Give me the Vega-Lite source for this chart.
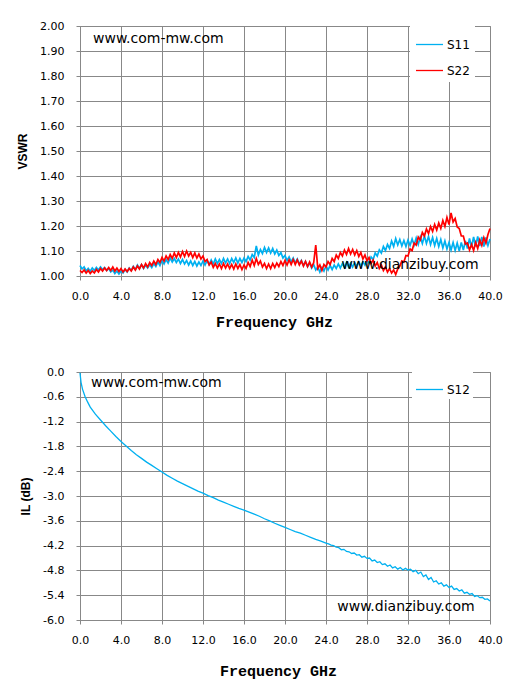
{
  "$schema": "https://vega.github.io/schema/vega-lite/v6.json",
  "padding": {"left": 16, "top": 19, "right": 5, "bottom": 5},
  "background": "white",
  "spacing": 35,
  "datasets": {
    "vswr": [
      {"f":0,"S11":1.042,"S22":1.022},{"f":0.2,"S11":1.028,"S22":1.014},{"f":0.4,"S11":1.036,"S22":1.024},{"f":0.6,"S11":1.020,"S22":1.012},{"f":0.8,"S11":1.030,"S22":1.022},
      {"f":1,"S11":1.019,"S22":1.010},{"f":1.2,"S11":1.032,"S22":1.020},{"f":1.4,"S11":1.022,"S22":1.012},{"f":1.6,"S11":1.034,"S22":1.026},{"f":1.8,"S11":1.024,"S22":1.016},
      {"f":2,"S11":1.036,"S22":1.030},{"f":2.2,"S11":1.026,"S22":1.020},{"f":2.4,"S11":1.034,"S22":1.032},{"f":2.6,"S11":1.022,"S22":1.022},{"f":2.8,"S11":1.030,"S22":1.034},
      {"f":3,"S11":1.016,"S22":1.022},{"f":3.2,"S11":1.024,"S22":1.036},{"f":3.4,"S11":1.010,"S22":1.020},{"f":3.6,"S11":1.020,"S22":1.032},{"f":3.8,"S11":1.008,"S22":1.018},
      {"f":4,"S11":1.020,"S22":1.030},{"f":4.2,"S11":1.012,"S22":1.016},{"f":4.4,"S11":1.026,"S22":1.028},{"f":4.6,"S11":1.016,"S22":1.018},{"f":4.8,"S11":1.032,"S22":1.030},
      {"f":5,"S11":1.022,"S22":1.020},{"f":5.2,"S11":1.038,"S22":1.036},{"f":5.4,"S11":1.026,"S22":1.024},{"f":5.6,"S11":1.044,"S22":1.040},{"f":5.8,"S11":1.030,"S22":1.028},
      {"f":6,"S11":1.046,"S22":1.046},{"f":6.2,"S11":1.030,"S22":1.032},{"f":6.4,"S11":1.044,"S22":1.050},{"f":6.6,"S11":1.032,"S22":1.036},{"f":6.8,"S11":1.046,"S22":1.054},
      {"f":7,"S11":1.034,"S22":1.042},{"f":7.2,"S11":1.050,"S22":1.060},{"f":7.4,"S11":1.038,"S22":1.046},{"f":7.6,"S11":1.056,"S22":1.066},{"f":7.8,"S11":1.042,"S22":1.054},
      {"f":8,"S11":1.062,"S22":1.074},{"f":8.2,"S11":1.048,"S22":1.060},{"f":8.4,"S11":1.066,"S22":1.080},{"f":8.6,"S11":1.052,"S22":1.066},{"f":8.8,"S11":1.072,"S22":1.086},
      {"f":9,"S11":1.056,"S22":1.070},{"f":9.2,"S11":1.070,"S22":1.092},{"f":9.4,"S11":1.054,"S22":1.074},{"f":9.6,"S11":1.068,"S22":1.094},{"f":9.8,"S11":1.050,"S22":1.076},
      {"f":10,"S11":1.066,"S22":1.098},{"f":10.2,"S11":1.048,"S22":1.078},{"f":10.4,"S11":1.062,"S22":1.100},{"f":10.6,"S11":1.044,"S22":1.080},{"f":10.8,"S11":1.060,"S22":1.094},
      {"f":11,"S11":1.042,"S22":1.074},{"f":11.2,"S11":1.058,"S22":1.092},{"f":11.4,"S11":1.040,"S22":1.072},{"f":11.6,"S11":1.056,"S22":1.088},{"f":11.8,"S11":1.042,"S22":1.068},
      {"f":12,"S11":1.060,"S22":1.080},{"f":12.2,"S11":1.044,"S22":1.058},{"f":12.4,"S11":1.062,"S22":1.066},{"f":12.6,"S11":1.046,"S22":1.044},{"f":12.8,"S11":1.064,"S22":1.056},
      {"f":13,"S11":1.048,"S22":1.034},{"f":13.2,"S11":1.068,"S22":1.050},{"f":13.4,"S11":1.050,"S22":1.032},{"f":13.6,"S11":1.066,"S22":1.048},{"f":13.8,"S11":1.050,"S22":1.030},
      {"f":14,"S11":1.070,"S22":1.050},{"f":14.2,"S11":1.052,"S22":1.032},{"f":14.4,"S11":1.068,"S22":1.048},{"f":14.6,"S11":1.050,"S22":1.030},{"f":14.8,"S11":1.070,"S22":1.046},
      {"f":15,"S11":1.054,"S22":1.028},{"f":15.2,"S11":1.072,"S22":1.048},{"f":15.4,"S11":1.052,"S22":1.030},{"f":15.6,"S11":1.070,"S22":1.046},{"f":15.8,"S11":1.054,"S22":1.026},
      {"f":16,"S11":1.072,"S22":1.044},{"f":16.2,"S11":1.058,"S22":1.030},{"f":16.4,"S11":1.078,"S22":1.054},{"f":16.6,"S11":1.064,"S22":1.038},{"f":16.8,"S11":1.086,"S22":1.064},
      {"f":17,"S11":1.074,"S22":1.042},{"f":17.2,"S11":1.120,"S22":1.070},{"f":17.4,"S11":1.084,"S22":1.046},{"f":17.6,"S11":1.106,"S22":1.060},{"f":17.8,"S11":1.090,"S22":1.036},
      {"f":18,"S11":1.114,"S22":1.050},{"f":18.2,"S11":1.094,"S22":1.030},{"f":18.4,"S11":1.112,"S22":1.048},{"f":18.6,"S11":1.092,"S22":1.030},{"f":18.8,"S11":1.110,"S22":1.050},
      {"f":19,"S11":1.088,"S22":1.034},{"f":19.2,"S11":1.104,"S22":1.052},{"f":19.4,"S11":1.082,"S22":1.038},{"f":19.6,"S11":1.094,"S22":1.058},{"f":19.8,"S11":1.072,"S22":1.042},
      {"f":20,"S11":1.082,"S22":1.062},{"f":20.2,"S11":1.062,"S22":1.044},{"f":20.4,"S11":1.076,"S22":1.064},{"f":20.6,"S11":1.056,"S22":1.046},{"f":20.8,"S11":1.072,"S22":1.066},
      {"f":21,"S11":1.052,"S22":1.046},{"f":21.2,"S11":1.068,"S22":1.064},{"f":21.4,"S11":1.048,"S22":1.044},{"f":21.6,"S11":1.062,"S22":1.060},{"f":21.8,"S11":1.042,"S22":1.040},
      {"f":22,"S11":1.058,"S22":1.058},{"f":22.2,"S11":1.038,"S22":1.038},{"f":22.4,"S11":1.052,"S22":1.056},{"f":22.6,"S11":1.032,"S22":1.036},{"f":22.8,"S11":1.046,"S22":1.054},
      {"f":23,"S11":1.024,"S22":1.124},{"f":23.2,"S11":1.036,"S22":1.030},{"f":23.4,"S11":1.016,"S22":1.044},{"f":23.6,"S11":1.034,"S22":1.022},{"f":23.8,"S11":1.020,"S22":1.046},
      {"f":24,"S11":1.040,"S22":1.036},{"f":24.2,"S11":1.024,"S22":1.058},{"f":24.4,"S11":1.042,"S22":1.046},{"f":24.6,"S11":1.026,"S22":1.070},{"f":24.8,"S11":1.044,"S22":1.058},
      {"f":25,"S11":1.030,"S22":1.084},{"f":25.2,"S11":1.048,"S22":1.070},{"f":25.4,"S11":1.032,"S22":1.094},{"f":25.6,"S11":1.050,"S22":1.080},{"f":25.8,"S11":1.034,"S22":1.104},
      {"f":26,"S11":1.054,"S22":1.086},{"f":26.2,"S11":1.036,"S22":1.110},{"f":26.4,"S11":1.052,"S22":1.088},{"f":26.6,"S11":1.036,"S22":1.106},{"f":26.8,"S11":1.054,"S22":1.084},
      {"f":27,"S11":1.038,"S22":1.102},{"f":27.2,"S11":1.056,"S22":1.078},{"f":27.4,"S11":1.040,"S22":1.094},{"f":27.6,"S11":1.058,"S22":1.068},{"f":27.8,"S11":1.044,"S22":1.084},
      {"f":28,"S11":1.064,"S22":1.060},{"f":28.2,"S11":1.052,"S22":1.074},{"f":28.4,"S11":1.076,"S22":1.050},{"f":28.6,"S11":1.066,"S22":1.064},{"f":28.8,"S11":1.092,"S22":1.040},
      {"f":29,"S11":1.080,"S22":1.054},{"f":29.2,"S11":1.104,"S22":1.030},{"f":29.4,"S11":1.092,"S22":1.044},{"f":29.6,"S11":1.118,"S22":1.022},{"f":29.8,"S11":1.102,"S22":1.036},
      {"f":30,"S11":1.126,"S22":1.016},{"f":30.2,"S11":1.110,"S22":1.030},{"f":30.4,"S11":1.140,"S22":1.012},{"f":30.6,"S11":1.118,"S22":1.024},{"f":30.8,"S11":1.150,"S22":1.006},
      {"f":31,"S11":1.124,"S22":1.028},{"f":31.2,"S11":1.146,"S22":1.040},{"f":31.4,"S11":1.120,"S22":1.060},{"f":31.6,"S11":1.142,"S22":1.056},{"f":31.8,"S11":1.118,"S22":1.082},
      {"f":32,"S11":1.144,"S22":1.080},{"f":32.2,"S11":1.122,"S22":1.108},{"f":32.4,"S11":1.148,"S22":1.102},{"f":32.6,"S11":1.124,"S22":1.132},{"f":32.8,"S11":1.152,"S22":1.124},
      {"f":33,"S11":1.126,"S22":1.156},{"f":33.2,"S11":1.156,"S22":1.144},{"f":33.4,"S11":1.130,"S22":1.174},{"f":33.6,"S11":1.160,"S22":1.160},{"f":33.8,"S11":1.130,"S22":1.188},
      {"f":34,"S11":1.158,"S22":1.170},{"f":34.2,"S11":1.126,"S22":1.198},{"f":34.4,"S11":1.154,"S22":1.178},{"f":34.6,"S11":1.122,"S22":1.206},{"f":34.8,"S11":1.150,"S22":1.184},
      {"f":35,"S11":1.118,"S22":1.212},{"f":35.2,"S11":1.146,"S22":1.190},{"f":35.4,"S11":1.112,"S22":1.222},{"f":35.6,"S11":1.140,"S22":1.198},{"f":35.8,"S11":1.108,"S22":1.234},
      {"f":36,"S11":1.134,"S22":1.206},{"f":36.2,"S11":1.104,"S22":1.252},{"f":36.4,"S11":1.134,"S22":1.216},{"f":36.6,"S11":1.102,"S22":1.230},{"f":36.8,"S11":1.132,"S22":1.196},
      {"f":37,"S11":1.100,"S22":1.190},{"f":37.2,"S11":1.134,"S22":1.160},{"f":37.4,"S11":1.104,"S22":1.160},{"f":37.6,"S11":1.140,"S22":1.128},{"f":37.8,"S11":1.110,"S22":1.132},
      {"f":38,"S11":1.150,"S22":1.104},{"f":38.2,"S11":1.116,"S22":1.126},{"f":38.4,"S11":1.156,"S22":1.102},{"f":38.6,"S11":1.118,"S22":1.134},{"f":38.8,"S11":1.158,"S22":1.110},
      {"f":39,"S11":1.120,"S22":1.144},{"f":39.2,"S11":1.156,"S22":1.122},{"f":39.4,"S11":1.118,"S22":1.154},{"f":39.6,"S11":1.154,"S22":1.132},{"f":39.8,"S11":1.122,"S22":1.166},
      {"f":40,"S11":1.148,"S22":1.190}
    ],
    "il": [
      {"f":0,"v":-0.02},{"f":0.1,"v":-0.25},{"f":0.25,"v":-0.42},{"f":0.5,"v":-0.6},{"f":0.75,"v":-0.73},
      {"f":1,"v":-0.85},{"f":1.5,"v":-1.02},{"f":2,"v":-1.16},{"f":2.5,"v":-1.3},{"f":3,"v":-1.43},
      {"f":3.5,"v":-1.56},{"f":4,"v":-1.68},{"f":4.5,"v":-1.79},{"f":5,"v":-1.9},{"f":5.5,"v":-2.0},
      {"f":6,"v":-2.09},{"f":6.5,"v":-2.18},{"f":7,"v":-2.26},{"f":7.5,"v":-2.34},{"f":8,"v":-2.42},
      {"f":8.5,"v":-2.5},{"f":9,"v":-2.57},{"f":9.5,"v":-2.64},{"f":10,"v":-2.7},{"f":10.5,"v":-2.76},
      {"f":11,"v":-2.82},{"f":11.5,"v":-2.88},{"f":12,"v":-2.93},{"f":12.5,"v":-2.99},{"f":13,"v":-3.04},
      {"f":13.5,"v":-3.1},{"f":14,"v":-3.15},{"f":14.5,"v":-3.2},{"f":15,"v":-3.25},{"f":15.5,"v":-3.3},
      {"f":16,"v":-3.34},{"f":16.5,"v":-3.39},{"f":17,"v":-3.44},{"f":17.5,"v":-3.49},{"f":18,"v":-3.55},
      {"f":18.5,"v":-3.6},{"f":19,"v":-3.66},{"f":19.5,"v":-3.71},{"f":20,"v":-3.76},{"f":20.5,"v":-3.81},
      {"f":21,"v":-3.86},{"f":21.5,"v":-3.9},{"f":22,"v":-3.95},{"f":22.5,"v":-4.0},{"f":23,"v":-4.05},
      {"f":23.5,"v":-4.09},
      {"f":24,"v":-4.14},{"f":24.25,"v":-4.16},{"f":24.5,"v":-4.19},{"f":24.75,"v":-4.20},
      {"f":25,"v":-4.24},{"f":25.25,"v":-4.25},{"f":25.5,"v":-4.30},{"f":25.75,"v":-4.29},
      {"f":26,"v":-4.34},{"f":26.25,"v":-4.35},{"f":26.5,"v":-4.39},{"f":26.75,"v":-4.38},
      {"f":27,"v":-4.43},{"f":27.25,"v":-4.42},{"f":27.5,"v":-4.48},{"f":27.75,"v":-4.46},
      {"f":28,"v":-4.51},{"f":28.25,"v":-4.50},{"f":28.5,"v":-4.57},{"f":28.75,"v":-4.55},
      {"f":29,"v":-4.61},{"f":29.25,"v":-4.59},{"f":29.5,"v":-4.66},{"f":29.75,"v":-4.64},
      {"f":30,"v":-4.70},{"f":30.25,"v":-4.67},{"f":30.5,"v":-4.74},{"f":30.75,"v":-4.71},
      {"f":31,"v":-4.77},{"f":31.25,"v":-4.73},{"f":31.5,"v":-4.79},{"f":31.75,"v":-4.75},
      {"f":32,"v":-4.79},{"f":32.25,"v":-4.77},{"f":32.5,"v":-4.83},{"f":32.75,"v":-4.80},
      {"f":33,"v":-4.88},{"f":33.25,"v":-4.84},{"f":33.5,"v":-4.95},{"f":33.75,"v":-4.91},
      {"f":34,"v":-5.02},{"f":34.25,"v":-4.97},{"f":34.5,"v":-5.08},{"f":34.75,"v":-5.05},
      {"f":35,"v":-5.13},{"f":35.25,"v":-5.10},{"f":35.5,"v":-5.18},{"f":35.75,"v":-5.15},
      {"f":36,"v":-5.21},{"f":36.25,"v":-5.18},{"f":36.5,"v":-5.26},{"f":36.75,"v":-5.24},
      {"f":37,"v":-5.30},{"f":37.25,"v":-5.27},{"f":37.5,"v":-5.35},{"f":37.75,"v":-5.33},
      {"f":38,"v":-5.38},{"f":38.25,"v":-5.36},{"f":38.5,"v":-5.43},{"f":38.75,"v":-5.41},
      {"f":39,"v":-5.46},{"f":39.25,"v":-5.45},{"f":39.5,"v":-5.50},{"f":39.75,"v":-5.49},
      {"f":40,"v":-5.54}
    ],
    "notesTop": [
      {"f":1.27,"v":1.948,"t":"www.com-mw.com"},
      {"f":25.5,"v":1.044,"t":"www.dianzibuy.com"}
    ],
    "notesBottom": [
      {"f":1.07,"v":-0.27,"t":"www.com-mw.com"},
      {"f":25.1,"v":-5.69,"t":"www.dianzibuy.com"}
    ]
  },
  "resolve": {"scale": {"color": "independent"}, "legend": {"color": "independent"}},
  "vconcat": [
    {
      "width": 410,
      "height": 250,
      "layer": [
        {
          "data": {"name": "vswr"},
          "transform": [{"fold": ["S11", "S22"], "as": ["s", "v"]}],
          "mark": {"type": "line", "strokeWidth": 1.7},
          "encoding": {
            "x": {"field": "f", "type": "quantitative", "title": "Frequency GHz",
                  "scale": {"domain": [0, 40], "nice": false},
                  "axis": {"values": [0,4,8,12,16,20,24,28,32,36,40], "tickCount": 20, "format": ".1f", "titlePadding": 13, "titleX": 194}},
            "y": {"field": "v", "type": "quantitative", "title": "VSWR",
                  "scale": {"domain": [1, 2], "nice": false, "zero": false},
                  "axis": {"values": [1,1.1,1.2,1.3,1.4,1.5,1.6,1.7,1.8,1.9,2], "tickCount": 20, "format": ".2f"}},
            "color": {"field": "s", "type": "nominal",
                      "scale": {"domain": ["S11", "S22"], "range": ["#00B0F0", "#FF0000"]},
                      "legend": {"title": null, "orient": "none", "legendX": 330, "legendY": -1,
                                 "symbolType": "stroke", "symbolSize": 729, "symbolStrokeWidth": 1.3,
                                 "rowPadding": 5, "padding": 5, "labelOffset": 3,
                                 "fillColor": "white", "strokeColor": null}}
          }
        },
        {
          "data": {"name": "notesTop"},
          "mark": {"type": "text", "align": "left", "baseline": "middle", "font": "DejaVu Sans", "fontSize": 14, "color": "#000"},
          "encoding": {
            "x": {"field": "f", "type": "quantitative"},
            "y": {"field": "v", "type": "quantitative"},
            "text": {"field": "t"}
          }
        }
      ]
    },
    {
      "width": 410,
      "height": 248,
      "layer": [
        {
          "data": {"name": "il"},
          "transform": [{"calculate": "'S12'", "as": "s"}],
          "mark": {"type": "line", "strokeWidth": 1.3},
          "encoding": {
            "x": {"field": "f", "type": "quantitative", "title": "Frequency GHz",
                  "scale": {"domain": [0, 40], "nice": false},
                  "axis": {"values": [0,4,8,12,16,20,24,28,32,36,40], "tickCount": 20, "format": ".1f", "titlePadding": 18, "titleX": 198}},
            "y": {"field": "v", "type": "quantitative", "title": "IL (dB)",
                  "scale": {"domain": [-6, 0], "nice": false},
                  "axis": {"values": [0,-0.6,-1.2,-1.8,-2.4,-3,-3.6,-4.2,-4.8,-5.4,-6], "tickCount": 20, "format": ".1f",
                           "labelExpr": "replace(datum.label, '\u2212', '-')"}},
            "color": {"field": "s", "type": "nominal",
                      "scale": {"domain": ["S12"], "range": ["#00B0F0"]},
                      "legend": {"title": null, "orient": "none", "legendX": 332, "legendY": 0,
                                 "symbolType": "stroke", "symbolSize": 729, "symbolStrokeWidth": 1.3,
                                 "rowPadding": 0, "padding": 3, "labelOffset": 3,
                                 "fillColor": "white", "strokeColor": null}}
          }
        },
        {
          "data": {"name": "notesBottom"},
          "mark": {"type": "text", "align": "left", "baseline": "middle", "font": "DejaVu Sans", "fontSize": 14, "color": "#000"},
          "encoding": {
            "x": {"field": "f", "type": "quantitative"},
            "y": {"field": "v", "type": "quantitative"},
            "text": {"field": "t"}
          }
        }
      ]
    }
  ],
  "config": {
    "view": {"stroke": "#888888"},
    "axis": {
      "grid": true, "gridColor": "#888888", "gridOpacity": 1, "gridWidth": 1,
      "domainColor": "#888888", "tickColor": "#888888", "tickSize": 4,
      "labelFont": "DejaVu Sans", "labelFontSize": 11, "labelColor": "#000000",
      "labelOverlap": false, "labelFlush": false, "labelBound": false
    },
    "axisX": {"labelPadding": 10, "titleFont": "Liberation Mono", "titleFontWeight": "bold", "titleFontSize": 15, "titleColor": "#000000"},
    "axisY": {"labelPadding": 12, "titlePadding": 10, "titleFont": "Liberation Sans", "titleFontWeight": "bold", "titleFontSize": 12, "titleColor": "#000000"},
    "legend": {"labelFont": "DejaVu Sans", "labelFontSize": 12, "labelColor": "#000000"}
  }
}
